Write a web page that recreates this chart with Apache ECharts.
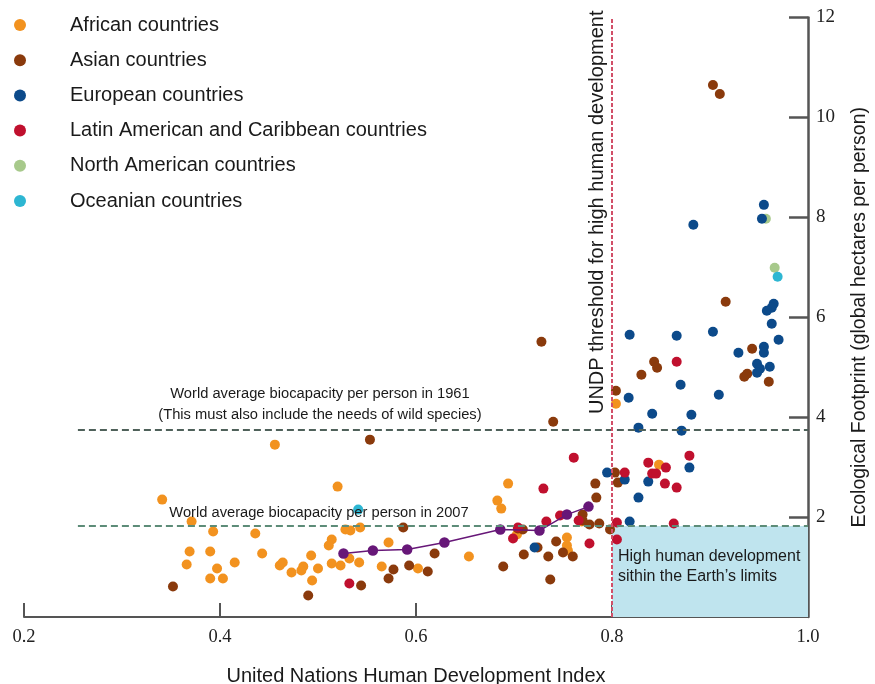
<!DOCTYPE html>
<html>
<head>
<meta charset="utf-8">
<script src="https://cdn.jsdelivr.net/npm/echarts@6/dist/echarts.min.js"></script>
<style>html,body{margin:0;padding:0;background:#fff}#c{width:875px;height:684px}</style>
</head>
<body>
<div id="c"></div>
<script>
// HDI (x), Ecological Footprint gha/person (y)
const african = [[0.341,2.35],[0.371,1.91],[0.393,1.71],[0.436,1.67],[0.369,1.31],[0.390,1.31],[0.443,1.27],[0.366,1.05],[0.397,0.97],[0.415,1.09],[0.390,0.77],[0.403,0.77],[0.461,1.03],[0.464,1.09],[0.473,0.89],[0.456,3.45],[0.520,2.61],[0.528,1.75],[0.533,1.73],[0.543,1.79],[0.514,1.55],[0.511,1.43],[0.572,1.49],[0.493,1.23],[0.485,1.01],[0.483,0.93],[0.500,0.97],[0.514,1.07],[0.523,1.03],[0.532,1.17],[0.542,1.09],[0.565,1.01],[0.494,0.73],[0.602,0.97],[0.654,1.21],[0.694,2.67],[0.683,2.33],[0.687,2.17],[0.703,1.65],[0.754,1.59],[0.754,1.43],[0.755,1.33],[0.769,1.91],[0.804,4.27],[0.848,3.05]];
const asian = [[0.352,0.61],[0.553,3.55],[0.587,1.79],[0.577,0.95],[0.572,0.77],[0.593,1.03],[0.544,0.63],[0.490,0.43],[0.612,0.91],[0.619,1.27],[0.728,5.51],[0.740,3.91],[0.689,1.01],[0.709,1.75],[0.704,1.77],[0.724,1.39],[0.710,1.25],[0.735,1.21],[0.743,1.51],[0.750,1.29],[0.760,1.21],[0.737,0.75],[0.783,2.67],[0.784,2.39],[0.770,2.05],[0.770,1.93],[0.777,1.85],[0.787,1.87],[0.798,1.75],[0.804,4.53],[0.803,2.89],[0.806,2.69],[0.843,5.11],[0.846,4.99],[0.830,4.85],[0.903,10.65],[0.910,10.47],[0.916,6.31],[0.943,5.37],[0.935,4.81],[0.938,4.87],[0.960,4.71]];
const european = [[0.721,1.39],[0.795,2.89],[0.813,2.75],[0.818,1.91],[0.827,2.39],[0.837,2.71],[0.879,2.99],[0.817,4.39],[0.841,4.07],[0.881,4.05],[0.827,3.79],[0.871,3.73],[0.870,4.65],[0.909,4.45],[0.818,5.65],[0.866,5.63],[0.903,5.71],[0.970,5.55],[0.929,5.29],[0.955,5.41],[0.955,5.29],[0.948,5.07],[0.951,4.97],[0.961,5.01],[0.948,4.89],[0.963,5.87],[0.965,6.27],[0.963,6.19],[0.958,6.13],[0.955,8.25],[0.953,7.97],[0.883,7.85]];
const latinAmerican = [[0.532,0.67],[0.761,3.19],[0.730,2.57],[0.704,1.79],[0.699,1.57],[0.733,1.91],[0.747,2.03],[0.766,1.93],[0.777,1.47],[0.805,1.89],[0.805,1.55],[0.813,2.89],[0.837,3.09],[0.855,2.99],[0.841,2.87],[0.845,2.87],[0.854,2.67],[0.866,2.59],[0.879,3.23],[0.866,5.11],[0.863,1.87]];
const northAmerican = [[0.966,6.99],[0.957,7.97]];
const oceanian = [[0.541,2.15],[0.969,6.81]];
const trajectory = [[0.526,1.27],[0.556,1.33],[0.591,1.35],[0.629,1.49],[0.686,1.75],[0.726,1.73],[0.754,2.05],[0.776,2.21]];

const legendNames = ['African countries','Asian countries','European countries','Latin American and Caribbean countries','North American countries','Oceanian countries'];
const colors = {african:'#f2921f', asian:'#8a3a0c', european:'#0c4a8a', latin:'#c0102e', na:'#a7c98b', oce:'#2db6d2', traj:'#671778'};

const xTicks = {min:0.2, max:1.0, interval:0.2};
const yTicks = {min:0, max:12, interval:2};
const hdiThreshold = 0.8;
const bio1961 = 3.74, bio2007 = 1.82;
const lineStartHDI = 0.255;

const sans = '"Liberation Sans", Arial, sans-serif';
const serif = '"Liberation Serif", "Times New Roman", serif';

const chart = echarts.init(document.getElementById('c'), null, {renderer:'canvas'});
const dot = (name, data, color) => ({
  name, type:'scatter', data, symbol:'circle', symbolSize:10,
  itemStyle:{color, opacity:1}, z:3, emphasis:{disabled:true}
});
chart.setOption({
  animation:false,
  backgroundColor:'#fff',
  grid:{left:24, right:67, top:17.5, bottom:67, containLabel:false, outerBoundsMode:'none'},
  legend:{
    data:legendNames, orient:'vertical', left:9, top:9,
    icon:'circle', itemWidth:12, itemHeight:12, itemGap:13.2,
    textStyle:{fontFamily:sans, fontSize:20, color:'#1a1a1a', lineHeight:22, padding:[0,0,0,39]},
    selectedMode:false
  },
  xAxis:{
    type:'value', min:xTicks.min, max:xTicks.max, interval:xTicks.interval,
    name:'United Nations Human Development Index', nameLocation:'middle', nameGap:49,
    nameTextStyle:{fontFamily:sans, fontSize:20, color:'#1a1a1a'},
    axisLine:{show:true, onZero:false, lineStyle:{color:'#555', width:2}},
    axisTick:{show:true, inside:true, length:14, lineStyle:{color:'#555', width:2}},
    axisLabel:{fontFamily:serif, fontSize:18.5, color:'#222', margin:11, formatter:v=>v.toFixed(1)},
    splitLine:{show:false}
  },
  yAxis:{
    type:'value', position:'right', min:yTicks.min, max:yTicks.max, interval:yTicks.interval,
    name:'Ecological Footprint (global hectares per person)', nameLocation:'middle', nameGap:42, nameRotate:90,
    nameTextStyle:{fontFamily:sans, fontSize:19.5, color:'#1a1a1a'},
    axisLine:{show:true, onZero:false, lineStyle:{color:'#555', width:2.5}},
    axisTick:{show:true, inside:true, length:19, lineStyle:{color:'#555', width:2.5}},
    axisLabel:{fontFamily:serif, fontSize:19, color:'#222', margin:8, showMinLabel:false, padding:[6,0,0,0]},
    splitLine:{show:false}
  },
  series:[
    {
      name:'annotations', type:'scatter', data:[], z:1, silent:true,
      markArea:{
        silent:true,
        itemStyle:{color:'#bfe4ee'},
        label:{show:true, position:[6,21], fontFamily:sans, fontSize:16, lineHeight:19.5, color:'#1a1a1a',
          formatter:'High human development\nsithin the Earth\u2019s limits'},
        data:[[{coord:[hdiThreshold,0]},{coord:[xTicks.max,bio2007]}]]
      },
      markLine:{
        silent:true, symbol:['none','none'],
        data:[
          [{coord:[lineStartHDI,bio1961]},{coord:[xTicks.max,bio1961], lineStyle:{color:'#4f615a', width:2, type:[7,4]}, label:{show:false}}],
          [{coord:[lineStartHDI,bio2007]},{coord:[xTicks.max,bio2007], lineStyle:{color:'#5d8c78', width:2, type:[7,4]}, label:{show:false}}],
          [{coord:[hdiThreshold,0]},{coord:[hdiThreshold,yTicks.max],
            lineStyle:{color:'#d24f68', width:2, type:[4,2]},
            label:{show:true, position:'insideEndTop', distance:5, offset:[2,0], formatter:'UNDP threshold for high human development',
              fontFamily:sans, fontSize:20, color:'#1a1a1a'}}]
        ]
      },
      markPoint:{
        silent:true, symbol:'circle', symbolSize:0,
        label:{show:true, position:'inside', fontFamily:sans, fontSize:14.7, lineHeight:21, color:'#1a1a1a', align:'center'},
        data:[
          {coord:[0.502,4.26], value:0, label:{formatter:'World average biocapacity per person in 1961\n(This must also include the needs of wild species)'}},
          {coord:[0.501,2.09], value:0, label:{formatter:'World average biocapacity per person in 2007'}}
        ]
      }
    },
    dot(legendNames[0], african, colors.african),
    dot(legendNames[1], asian, colors.asian),
    dot(legendNames[4], northAmerican, colors.na),
    dot(legendNames[2], european, colors.european),
    dot(legendNames[3], latinAmerican, colors.latin),
    dot(legendNames[5], oceanian, colors.oce),
    {
      name:'trajectory', type:'line', data:trajectory, symbol:'circle', symbolSize:10.5, showSymbol:true,
      itemStyle:{color:colors.traj}, lineStyle:{color:colors.traj, width:1.5}, z:4, emphasis:{disabled:true}
    }
  ]
});
</script>
</body>
</html>
